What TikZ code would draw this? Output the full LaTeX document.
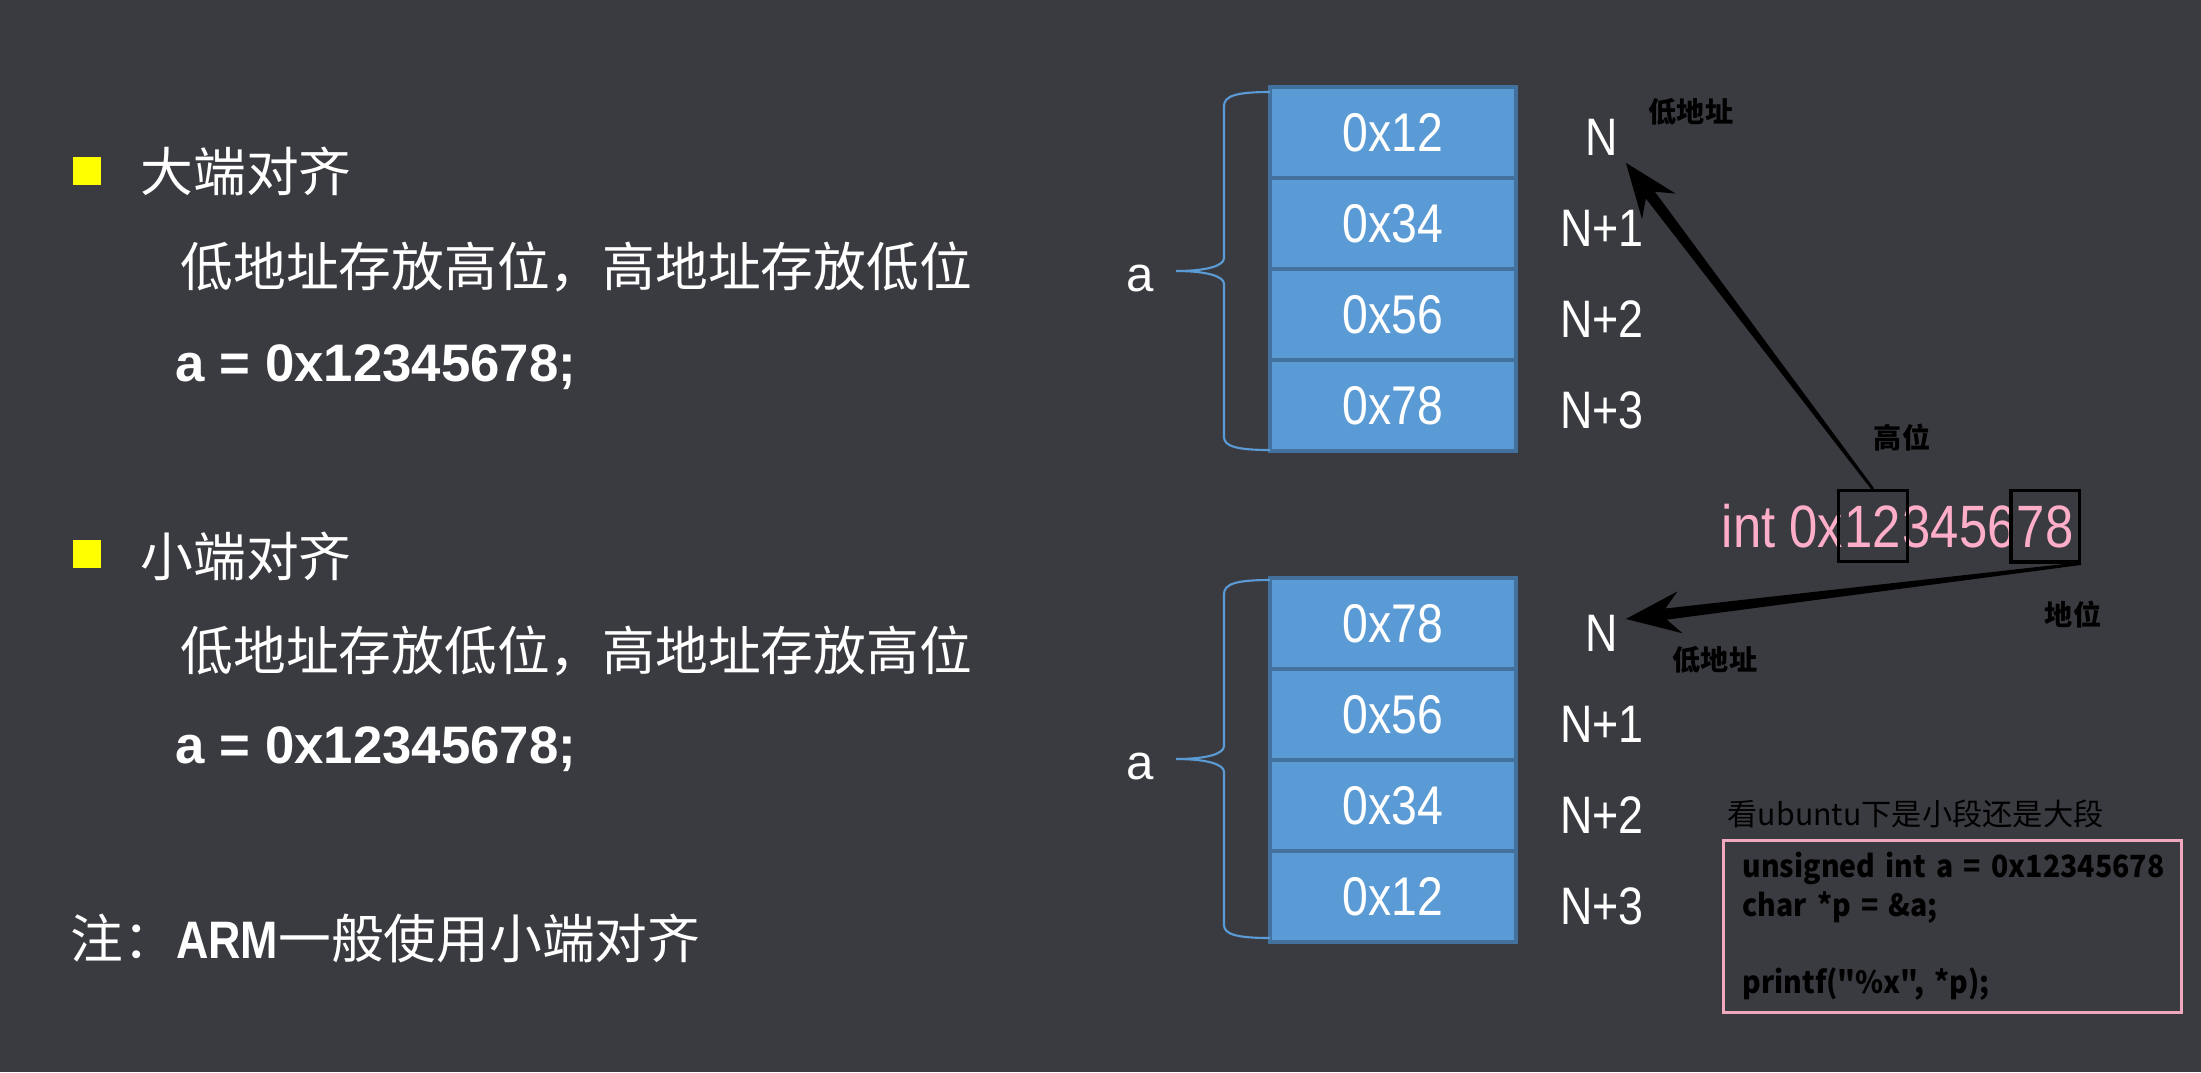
\documentclass[tikz,border=0pt]{standalone}
\usepackage{fontspec}
\setmainfont{Noto Sans CJK SC}
\newfontfamily\latinfont{Liberation Sans}
\newfontfamily\narrowfont[FakeStretch=0.85]{Liberation Sans}
\newfontfamily\codefont[FakeStretch=0.93]{Noto Sans CJK SC}
\usetikzlibrary{arrows.meta, calc, fit}

\definecolor{slidebg}{RGB}{58,59,64}
\definecolor{cellblue}{RGB}{91,155,213}
\definecolor{cellline}{RGB}{65,113,156}
\definecolor{pinktext}{RGB}{255,174,201}
\definecolor{pinkline}{RGB}{240,168,190}
\definecolor{markyellow}{RGB}{255,255,0}

\tikzset{
    cell/.style={draw=cellline, fill=cellblue, line width=1pt, minimum width=2.46cm, minimum height=0.91cm,
        inner sep=0pt, text=white, font=\narrowfont\fontsize{15.5}{18}\selectfont}, % 内存单元
    addr/.style={text=white, inner sep=2pt, font=\narrowfont\fontsize{15}{18}\selectfont}, % 地址标注
    title/.style={anchor=west, inner sep=0pt, text=white, font=\fontsize{15}{18}\selectfont},
    codeline/.style={anchor=base west, inner sep=0pt, text=white, font=\latinfont\bfseries\fontsize{15}{18}\selectfont},
    yellowmark/.style={fill=markyellow, minimum size=0.28cm, inner sep=0pt},
    varname/.style={text=white, inner sep=0pt, font=\latinfont\fontsize{14}{16}\selectfont},
    bracestroke/.style={draw=cellblue, line width=0.6pt},
    hexpink/.style={anchor=base west, inner sep=0pt, text=pinktext, font=\narrowfont\fontsize{17}{20}\selectfont},
    hibox/.style={draw=black, line width=0.9pt, inner xsep=1.5pt, inner ysep=0pt, minimum height=0.71cm},
    tag/.style={text=black, inner sep=1pt, font=\bfseries\fontsize{8}{10}\selectfont},
    codebox/.style={draw=pinkline, line width=0.9pt, text=black, align=left, text width=4.2cm,
        inner xsep=0.19cm, minimum height=1.69cm, font=\codefont\bfseries\fontsize{8.7}{11}\selectfont}
}

% 渐细箭头: #1 尾, #2 尖
\newcommand\taperarrow[2]{%
    \coordinate (tnotch) at ($(#2)!11.5pt!(#1)$);
    \coordinate (tbarb) at ($(#2)!15.5pt!(#1)$);
    \fill[black] ($(#1)!0.4pt!90:(#2)$) -- ($(tnotch)!1.6pt!90:(#2)$) -- ($(tbarb)!6pt!90:(#2)$) -- (#2)
        -- ($(tbarb)!6pt!-90:(#2)$) -- ($(tnotch)!1.6pt!-90:(#2)$) -- ($(#1)!0.4pt!-90:(#2)$) -- cycle;
}

\begin{document}
\begin{tikzpicture}[x=0.01cm, y=-0.01cm]
    \fill[slidebg] (0,0) rectangle (2201,1072);

    % 左侧文字
    \node[yellowmark] (m1) at (87,171) {};
    \node[title] (big) at (140,171) {大端对齐};
    \node[title] (bigdesc) at (180,267) {低地址存放高位，高地址存放低位};
    \node[codeline] (bigcode) at (175,381) {a = 0x12345678;};
    \node[yellowmark] (m2) at (87,554) {};
    \node[title] (little) at (140,556) {小端对齐};
    \node[title] (littledesc) at (180,651) {低地址存放低位，高地址存放高位};
    \node[codeline] (littlecode) at (175,763) {a = 0x12345678;};
    \node[title] (note) at (70,938) {注：{\narrowfont\bfseries ARM}一般使用小端对齐};

    % 内存布局
    \foreach \v/\a [count=\i] in {12/N, 34/N+1, 56/N+2, 78/N+3} {
        \node[cell] (big\i) at (1393,41.5+91*\i) {0x\v};
        \node[addr] (bigaddr\i) at (1602,46+91*\i) {\a};
    }
    \foreach \v/\a [count=\i] in {78/N, 56/N+1, 34/N+2, 12/N+3} {
        \node[cell] (little\i) at (1393,532.5+91*\i) {0x\v};
        \node[addr] (littleaddr\i) at (1602,542+91*\i) {\a};
    }
    \foreach \dy in {0,488} {
        \draw[bracestroke] (1270,92+\dy) .. controls (1236,92+\dy) and (1224,96+\dy) .. (1224,106+\dy) -- (1224,258+\dy)
            .. controls (1224,266+\dy) and (1206,271+\dy) .. (1176,271+\dy)
            .. controls (1206,271+\dy) and (1224,276+\dy) .. (1224,284+\dy) -- (1224,437+\dy)
            .. controls (1224,446+\dy) and (1236,450+\dy) .. (1270,450+\dy);
    }
    \node[varname] (abig) at (1140,278) {a};
    \node[varname] (alittle) at (1140,766) {a};

    % int 0x12345678
    \node[hexpink] (p1) at (1721,547) {int 0x};
    \node[hexpink] (d12) at (p1.base east) {12};
    \node[hexpink] (p2) at (d12.base east) {3456};
    \node[hexpink] (d78) at (p2.base east) {78};
    \node[hibox, fit=(d12)] (b12) {};
    \node[hibox, fit=(d78)] (b78) {};

    \node[tag] (lowtop) at (1691,112) {低地址};
    \node[tag] (hightag) at (1902,438) {高位};
    \node[tag] (lowtag) at (2073,615) {地位};
    \node[tag] (lowbot) at (1715,660) {低地址};

    \coordinate (toptip) at (bigaddr1.south east);
    \coordinate (bottip) at ([yshift=4pt]littleaddr1.east);
    \taperarrow{b12.north}{toptip}
    \taperarrow{b78.south east}{bottip}

    % 测试代码
    \node[anchor=west, inner sep=0pt, text=black, font=\fontsize{8.6}{10}\selectfont] (ask) at (1727,814) {看ubuntu下是小段还是大段};
    \node[codebox, anchor=north west] (code) at (1722,839) {\mbox{unsigned int a = 0x12345678}\\ char *p = \&a;\\[11pt] printf("\%x", *p);};
\end{tikzpicture}
\end{document}
